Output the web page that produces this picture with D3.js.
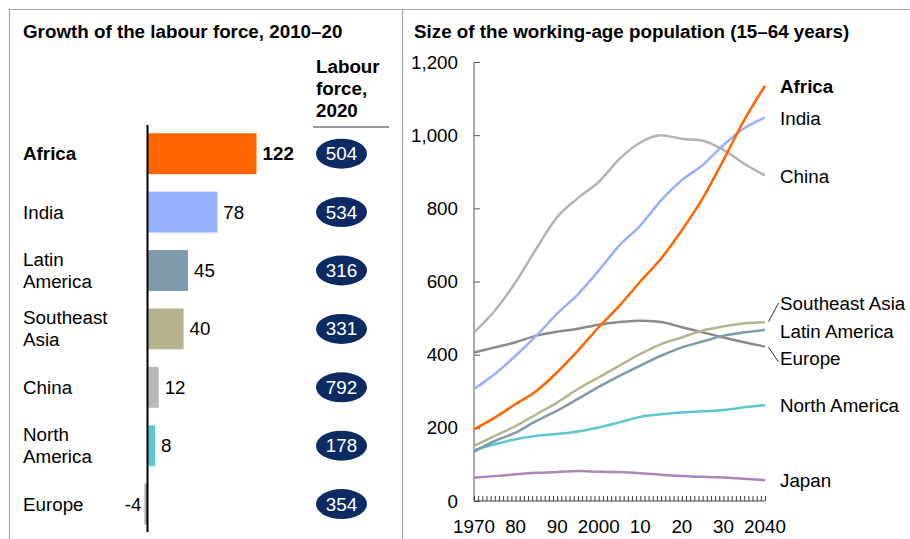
<!DOCTYPE html>
<html>
<head>
<meta charset="utf-8">
<script src="https://cdn.jsdelivr.net/npm/d3@7"></script>
<style>
  body { margin: 0; background: #fff; }
  svg { display: block; font-family: Arial, "Liberation Sans", sans-serif; }
</style>
</head>
<body>
<div id="chart"></div>
<script>
// LEFT PANEL DATA
var regions = ["Africa", "India", "Latin America", "Southeast Asia", "China", "North America", "Europe"];
var regionLines = [["Africa"], ["India"], ["Latin", "America"], ["Southeast", "Asia"], ["China"], ["North", "America"], ["Europe"]];
var growth = [122, 78, 45, 40, 12, 8, -4];
var labour2020 = [504, 534, 316, 331, 792, 178, 354];
var barColors = ["#ff6600", "#94b0ff", "#7f9bab", "#b5b48f", "#b8b8b8", "#5ec6cc", "#a8a8a8"];

// RIGHT PANEL DATA (millions, every 5 years)
var years = [1970, 1975, 1980, 1985, 1990, 1995, 2000, 2005, 2010, 2015, 2020, 2025, 2030, 2035, 2040];
var africa       = [196, 228, 265, 301, 352, 411, 475, 534, 600, 663, 740, 827, 932, 1041, 1135];
var india        = [306, 347, 397, 452, 512, 565, 630, 699, 753, 822, 877, 918, 973, 1019, 1048];
var china        = [461, 520, 598, 690, 776, 828, 872, 935, 980, 1000, 990, 985, 960, 922, 890];
var seAsia       = [151, 178, 205, 237, 269, 306, 338, 370, 402, 429, 447, 466, 477, 486, 489];
var latinAmerica = [135, 164, 187, 219, 247, 279, 312, 342, 370, 397, 420, 436, 452, 461, 468];
var europe       = [406, 420, 434, 452, 463, 471, 482, 489, 493, 489, 475, 461, 447, 434, 422];
var northAmerica = [139, 155, 169, 178, 183, 190, 201, 215, 230, 237, 242, 245, 249, 256, 262];
var japan        = [64, 68, 73, 77, 79, 82, 80, 79, 76, 72, 68, 66, 64, 61, 57];
var yTicks = [0, 200, 400, 600, 800, 1000, 1200];
var xTickLabels = ["1970", "80", "90", "2000", "10", "20", "30", "2040"];

var series = [
  { name: "China",          values: china,        color: "#b3b3b3", labelY: 183, bold: false },
  { name: "Europe",         values: europe,       color: "#8a8a8a", labelY: 365, bold: false },
  { name: "Japan",          values: japan,        color: "#a887b8", labelY: 487, bold: false },
  { name: "North America",  values: northAmerica, color: "#5ec6cc", labelY: 412, bold: false },
  { name: "Latin America",  values: latinAmerica, color: "#7f9bab", labelY: 338, bold: false },
  { name: "Southeast Asia", values: seAsia,       color: "#b5b48f", labelY: 310, bold: false },
  { name: "India",          values: india,        color: "#94b0ff", labelY: 125, bold: false },
  { name: "Africa",         values: africa,       color: "#ff6600", labelY: 93,  bold: true }
];

var width = 910, height = 539, fs = "18.8px";

var svg = d3.select("#chart").append("svg")
    .attr("width", width)
    .attr("height", height);

// Frame
var frame = svg.append("g").attr("stroke", "#a6a6a6").attr("stroke-width", 1.2);
frame.append("line").attr("x1", 9).attr("x2", width).attr("y1", 9.5).attr("y2", 9.5);
frame.append("line").attr("x1", 9.5).attr("x2", 9.5).attr("y1", 9).attr("y2", height);
frame.append("line").attr("x1", 402.5).attr("x2", 402.5).attr("y1", 9).attr("y2", height);

// ---------------- LEFT PANEL ----------------
var left = svg.append("g");

left.append("text")
    .attr("x", 23).attr("y", 38)
    .style("font-size", fs).style("font-weight", "bold")
    .text("Growth of the labour force, 2010\u201320");

left.append("text")
    .attr("x", 316).attr("y", 73)
    .style("font-size", fs).style("font-weight", "bold")
    .selectAll("tspan")
    .data(["Labour", "force,", "2020"])
    .enter().append("tspan")
    .attr("x", 316).attr("dy", (d, i) => i == 0 ? 0 : 22)
    .text(d => d);

left.append("line")
    .attr("x1", 313).attr("x2", 389).attr("y1", 127).attr("y2", 127)
    .style("stroke", "#777").style("stroke-width", 1.5);

var yBand = d3.scaleBand()
    .domain(regions)
    .range([124.5, 533.3])
    .paddingInner(0.3)
    .paddingOuter(0.15);

var xBar = d3.scaleLinear().domain([0, 122]).range([148, 256.5]);

var rows = left.selectAll("g.row")
    .data(regions.map((r, i) => ({ name: r, lines: regionLines[i], v: growth[i], lf: labour2020[i], color: barColors[i] })))
    .enter().append("g").attr("class", "row");

rows.append("rect")
    .attr("x", d => Math.min(xBar(0), xBar(d.v)))
    .attr("width", d => Math.abs(xBar(d.v) - xBar(0)))
    .attr("y", d => yBand(d.name))
    .attr("height", yBand.bandwidth())
    .style("fill", d => d.color);

// category labels (one or two lines)
rows.append("text")
    .attr("x", 23)
    .attr("y", d => yBand(d.name) + yBand.bandwidth() / 2 + 6.5 - (d.lines.length - 1) * 11)
    .style("font-size", fs)
    .style("font-weight", d => d.name == "Africa" ? "bold" : "normal")
    .selectAll("tspan")
    .data(d => d.lines)
    .enter().append("tspan")
    .attr("x", 23).attr("dy", (d, i) => i == 0 ? 0 : 22)
    .text(d => d);

// value labels
rows.append("text")
    .attr("x", d => d.v >= 0 ? xBar(d.v) + 6 : xBar(d.v) - 3)
    .attr("y", d => yBand(d.name) + yBand.bandwidth() / 2 + 6.5)
    .attr("text-anchor", d => d.v >= 0 ? "start" : "end")
    .style("font-size", fs)
    .style("font-weight", d => d.name == "Africa" ? "bold" : "normal")
    .text(d => d.v);

// labour force ovals
rows.append("ellipse")
    .attr("cx", 341.5)
    .attr("cy", d => yBand(d.name) + yBand.bandwidth() / 2)
    .attr("rx", 25.5).attr("ry", 15)
    .style("fill", "#0d2b63");

rows.append("text")
    .attr("x", 341.5)
    .attr("y", d => yBand(d.name) + yBand.bandwidth() / 2 + 6.5)
    .attr("text-anchor", "middle")
    .style("font-size", fs).style("fill", "#fff")
    .text(d => d.lf);

// zero axis
left.append("line")
    .attr("x1", xBar(0) - 0.5).attr("x2", xBar(0) - 0.5)
    .attr("y1", 125).attr("y2", 532)
    .style("stroke", "#000").style("stroke-width", 2);

// ---------------- RIGHT PANEL ----------------
var right = svg.append("g");

right.append("text")
    .attr("x", 414).attr("y", 38)
    .style("font-size", fs).style("font-weight", "bold")
    .text("Size of the working-age population (15\u201364 years)");

var x = d3.scaleLinear().domain([1970, 2040]).range([474, 765]);
var y = d3.scaleLinear().domain([0, 1200]).range([501, 62]);

// y axis with inward ticks
var yAxis = right.append("g")
    .attr("transform", "translate(474,0)")
    .call(d3.axisRight(y).tickValues(yTicks).tickSize(6).tickFormat(""));
yAxis.select(".domain").attr("d", "M0," + y(1200) + "V" + y(0)).style("stroke", "#555");
yAxis.selectAll(".tick line").style("stroke", "#555");

right.selectAll("text.ytick")
    .data(yTicks)
    .enter().append("text").attr("class", "ytick")
    .attr("x", 458).attr("y", d => y(d) + 6.5)
    .attr("text-anchor", "end")
    .style("font-size", fs)
    .text(d => d3.format(",")(d));

// x axis: yearly minor ticks pointing up
var xAxis = right.append("g")
    .attr("transform", "translate(0," + y(0) + ")")
    .call(d3.axisTop(x).tickValues(d3.range(1970, 2041)).tickSize(5).tickFormat(""));
xAxis.select(".domain").attr("d", "M" + x(1970) + ",0H" + x(2040)).style("stroke", "#444");
xAxis.selectAll(".tick line").style("stroke", "#444");

right.selectAll("text.xtick")
    .data(xTickLabels)
    .enter().append("text").attr("class", "xtick")
    .attr("x", (d, i) => x(1970 + i * 10))
    .attr("y", 533)
    .attr("text-anchor", "middle")
    .style("font-size", fs)
    .text(d => d);

var line = d3.line()
    .x((d, i) => x(years[i]))
    .y(d => y(d))
    .curve(d3.curveMonotoneX);

right.selectAll("path.series")
    .data(series)
    .enter().append("path").attr("class", "series")
    .attr("d", d => line(d.values))
    .style("fill", "none")
    .style("stroke", d => d.color)
    .style("stroke-width", 2.5);

right.selectAll("text.slabel")
    .data(series)
    .enter().append("text").attr("class", "slabel")
    .attr("x", 780).attr("y", d => d.labelY)
    .style("font-size", fs)
    .style("font-weight", d => d.bold ? "bold" : "normal")
    .text(d => d.name);

// leader lines for crowded labels
right.append("line")
    .attr("x1", 768.5).attr("y1", y(seAsia[seAsia.length - 1]) - 0.5)
    .attr("x2", 778.5).attr("y2", 303)
    .style("stroke", "#333").style("stroke-width", 1);
right.append("line")
    .attr("x1", 768.5).attr("y1", y(europe[europe.length - 1]) + 0.5)
    .attr("x2", 778.5).attr("y2", 362)
    .style("stroke", "#333").style("stroke-width", 1);
</script>
</body>
</html>
